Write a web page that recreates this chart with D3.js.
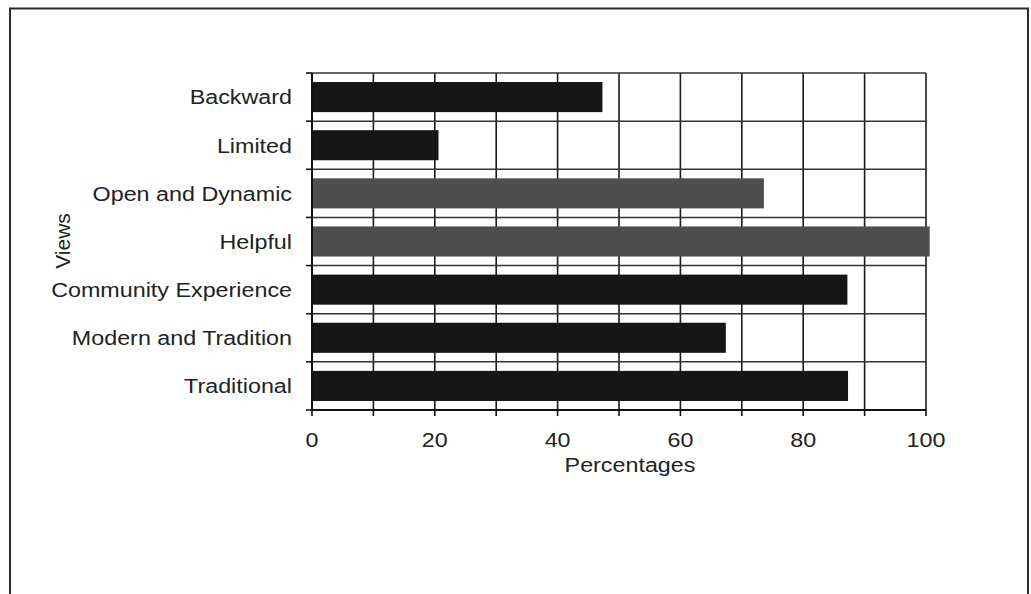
<!DOCTYPE html>
<html>
<head>
<meta charset="utf-8">
<script src="https://cdn.jsdelivr.net/npm/d3@7"></script>
<style>
  html, body { margin: 0; padding: 0; background: #fff; }
  svg { display: block; }
  text { font-family: "Liberation Sans", Arial, sans-serif; fill: #222; }
</style>
</head>
<body>
<svg id="chart" width="1031" height="594"></svg>
<script>
const categories = ["Backward", "Limited", "Open and Dynamic", "Helpful", "Community Experience", "Modern and Tradition", "Traditional"];
const values = [47.3, 20.6, 73.6, 100.6, 87.2, 67.4, 87.3];
const barShades = ["dark", "dark", "gray", "gray", "dark", "dark", "dark"];
const xTickValues = [0, 20, 40, 60, 80, 100];
const xTitle = "Percentages";
const yTitle = "Views";

const svg = d3.select("#chart");
const W = 1031, H = 594;
const plot = { left: 312, right: 926, top: 73, bottom: 410 };
const SX = 1.11; // horizontal stretch of the scanned lettering

// outer frame
svg.append("path")
  .attr("d", `M10,${H + 5} L10,8.5 L1028,8.5 L1028,${H + 5}`)
  .attr("fill", "none").attr("stroke", "#2a2a2a").attr("stroke-width", 2);

const x = d3.scaleLinear().domain([0, 100]).range([plot.left, plot.right]);
const y = d3.scaleBand().domain(categories).range([plot.top, plot.bottom])
  .paddingInner(0.375).paddingOuter(0.1875);

const g = svg.append("g");

// vertical gridlines every 10
const minorTicks = d3.range(0, 101, 10);
g.selectAll("line.vgrid").data(minorTicks).join("line")
  .attr("class", "vgrid")
  .attr("x1", d => x(d)).attr("x2", d => x(d))
  .attr("y1", plot.top).attr("y2", plot.bottom)
  .attr("stroke", "#1a1a1a").attr("stroke-width", 1.6);

// horizontal gridlines at band boundaries
const step = y.step();
const bounds = d3.range(0, categories.length + 1).map(i => plot.top + i * step);
g.selectAll("line.hgrid").data(bounds).join("line")
  .attr("class", "hgrid")
  .attr("x1", plot.left).attr("x2", plot.right)
  .attr("y1", d => d).attr("y2", d => d)
  .attr("stroke", "#333").attr("stroke-width", 1.5);

// bars
g.selectAll("rect.bar").data(categories).join("rect")
  .attr("class", "bar")
  .attr("x", x(0))
  .attr("y", d => y(d))
  .attr("width", (d, i) => x(values[i]) - x(0))
  .attr("height", y.bandwidth())
  .attr("fill", (d, i) => barShades[i] === "gray" ? "#4e4e4e" : "#161616");

// x axis line and ticks
g.append("line")
  .attr("x1", plot.left).attr("x2", plot.right)
  .attr("y1", plot.bottom).attr("y2", plot.bottom)
  .attr("stroke", "#111").attr("stroke-width", 2);
g.selectAll("line.xtick").data(minorTicks).join("line")
  .attr("class", "xtick")
  .attr("x1", d => x(d)).attr("x2", d => x(d))
  .attr("y1", plot.bottom).attr("y2", plot.bottom + 6)
  .attr("stroke", "#111").attr("stroke-width", 1.6);

// y axis line and ticks
g.append("line")
  .attr("x1", plot.left).attr("x2", plot.left)
  .attr("y1", plot.top).attr("y2", plot.bottom)
  .attr("stroke", "#111").attr("stroke-width", 2);
g.selectAll("line.ytick").data(bounds).join("line")
  .attr("class", "ytick")
  .attr("x1", plot.left - 6).attr("x2", plot.left)
  .attr("y1", d => d).attr("y2", d => d)
  .attr("stroke", "#111").attr("stroke-width", 1.6);

// x tick labels
g.selectAll("text.xlab").data(xTickValues).join("text")
  .attr("class", "xlab")
  .attr("transform", d => `translate(${x(d)},447) scale(${SX},1)`)
  .attr("text-anchor", "middle")
  .style("font-size", "21px")
  .text(d => d);

// y category labels
g.selectAll("text.ylab").data(categories).join("text")
  .attr("class", "ylab")
  .attr("transform", d => `translate(292,${y(d) + y.bandwidth() / 2}) scale(${SX},1)`)
  .attr("dy", "0.35em")
  .attr("text-anchor", "end")
  .style("font-size", "21px")
  .text(d => d);

// axis titles
svg.append("text")
  .attr("transform", `translate(630,472) scale(${SX},1)`)
  .attr("text-anchor", "middle")
  .style("font-size", "21px")
  .text(xTitle);

svg.append("text")
  .attr("transform", "translate(70,241) rotate(-90)")
  .attr("text-anchor", "middle")
  .style("font-size", "21px")
  .text(yTitle);
</script>
</body>
</html>
